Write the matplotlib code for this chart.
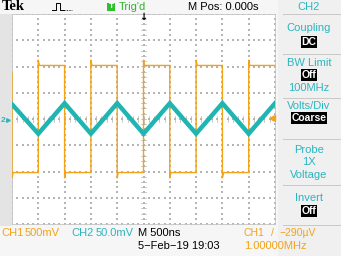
import numpy as np
import matplotlib.pyplot as plt
from matplotlib.patches import Rectangle
from matplotlib.lines import Line2D

W, H = 341, 256

# CH1 trace: 1 MHz square wave, volts (500 mV/div)
ch1_time_ns = [-2500, -2500, -2480, -2000, -2000, -1980, -1500, -1500, -1480,
               -1000, -1000, -980, -500, -500, -480, 0, 0, 20, 500, 500, 520,
               1000, 1000, 1020, 1500, 1500, 1520, 2000, 2000, 2020, 2500]
ch1_volts = [0.88, -1.12, -1.02, -1.02, 1.12, 1.02, 1.02, -1.12, -1.02,
             -1.02, 1.12, 1.02, 1.02, -1.12, -1.02, -1.02, 1.12, 1.02, 1.02, -1.12, -1.02,
             -1.02, 1.12, 1.02, 1.02, -1.12, -1.02, -1.02, 1.12, 1.02, 1.02]

# CH2 trace: triangle wave, millivolts (50 mV/div)
ch2_time_ns = [-2500, -2000, -1500, -1000, -500, 0, 500, 1000, 1500, 2000, 2500]
ch2_mv = [28, -28, 30, -28, 30, -28, 30, -28, 30, -28, 30]

ch1_vdiv = 0.5
ch2_vdiv = 50.0

ORANGE = '#f2a31b'
CYAN = '#1fb5b2'
CYAN_TXT = '#2ab6c0'
GRID = '#b4b4b4'
FONT = ['Liberation Sans', 'DejaVu Sans']


def fx(x):
    return x / W


def fy(y):
    return 1 - y / H


fig = plt.figure(figsize=(W / 100, H / 100), dpi=100)
fig.patch.set_facecolor('#f6f6f6')

# left grey strip and right menu panel
fig.add_artist(Rectangle((0, fy(226)), fx(12), fy(14) - fy(226),
                         transform=fig.transFigure, facecolor='#e4e4e4', edgecolor='none'))
fig.add_artist(Rectangle((fx(278), 0), fx(63), 1,
                         transform=fig.transFigure, facecolor='#f0f0f0', edgecolor='none'))

ax = fig.add_axes([fx(12), fy(224), fx(275) - fx(12), fy(14) - fy(224)])
ax.set_facecolor('white')
ax.set_xlim(-2500, 2500)
ax.set_ylim(-4, 4)
ax.set_xticks([])
ax.set_yticks([])
for s in ax.spines.values():
    s.set_color('#c4c4c4')
    s.set_linewidth(0.6)

# dotted graticule
for x in np.arange(-2500, 2501, 500):
    yy = np.arange(-4, 4.01, 0.2)
    ax.scatter(np.full_like(yy, x), yy, s=0.8, c=GRID, marker='s', linewidths=0, zorder=1)
for y in np.arange(-4, 4.01, 1):
    xx = np.arange(-2500, 2501, 100)
    ax.scatter(xx, np.full_like(xx, y, dtype=float), s=0.8, c=GRID, marker='s',
               linewidths=0, zorder=1)
# center-line tick marks
for yy in np.arange(-4, 4.01, 0.2):
    ax.plot([-50, 50], [yy, yy], color=GRID, lw=0.5, zorder=1)
for xx in np.arange(-2500, 2501, 100):
    ax.plot([xx, xx], [-0.1, 0.1], color=GRID, lw=0.5, zorder=1)

# traces
ax.plot(ch1_time_ns, np.array(ch1_volts) / ch1_vdiv, color=ORANGE, lw=1.0, zorder=3)
ax.plot(ch2_time_ns, np.array(ch2_mv) / ch2_vdiv, color=CYAN, lw=3.2,
        solid_joinstyle='miter', zorder=4)

# trigger level marker at right edge
ax.plot([2440], [0.05], marker='<', color=ORANGE, ms=4, clip_on=False, zorder=5)

# CH2 ground marker on left strip
fig.text(fx(1), fy(120), '2', color=CYAN_TXT, fontsize=6, va='center', ha='left',
         family=FONT, fontweight='bold')
fig.add_artist(Line2D([fx(8)], [fy(120)], marker='>', color=CYAN_TXT, ms=2.5,
                      transform=fig.transFigure))

# top bar
fig.text(fx(2), fy(7), 'Tek', fontsize=10.5, fontweight='bold', family='Liberation Serif',
         va='center', ha='left')
fig.add_artist(Line2D([fx(52), fx(56), fx(56), fx(60), fx(60), fx(64)],
                      [fy(10), fy(10), fy(3), fy(3), fy(10), fy(10)],
                      color='black', lw=0.7, transform=fig.transFigure))
fig.add_artist(Line2D([fx(65), fx(72)], [fy(10), fy(10)], color='black', lw=0.6,
                      ls=(0, (1, 1)), transform=fig.transFigure))
fig.add_artist(Rectangle((fx(107), fy(11)), fx(8), fy(3) - fy(11),
                         transform=fig.transFigure, facecolor='#2fbf2f', edgecolor='none'))
fig.text(fx(111), fy(7), 'T', color='white', fontsize=6, fontweight='bold',
         ha='center', va='center', family=FONT)
fig.text(fx(119), fy(7), "Trig'd", color='#2cb52c', fontsize=8, ha='left', va='center',
         family=FONT)
fig.text(fx(223), fy(7), 'M Pos: 0.000s', fontsize=8, ha='center', va='center', family=FONT)
fig.text(fx(143.5), fy(17), '\u2193', fontsize=7, fontweight='bold', ha='center', va='center')

# right menu
menu = [
    ('CH2', 7, None),
    ('Coupling', 28, None), ('DC', 42, 'box'),
    ('BW Limit', 63, None), ('Off', 75, 'box'), ('100MHz', 88, None),
    ('Volts/Div', 106, None), ('Coarse', 118, 'box'),
    ('Probe', 150, None), ('1X', 162, None), ('Voltage', 175, None),
    ('Invert', 198, None), ('Off', 211, 'box'),
]
for label, y, style in menu:
    if style == 'box':
        fig.text(fx(309), fy(y), label, color='white', fontsize=7.5, fontweight='bold',
                 ha='center', va='center', family=FONT,
                 bbox=dict(facecolor='black', edgecolor='none', pad=0.6))
    else:
        fig.text(fx(309), fy(y), label, color=CYAN_TXT, fontsize=8,
                 ha='center', va='center', family=FONT)
for y in [13.5, 53.5, 97.5, 139, 185, 225]:
    fig.add_artist(Line2D([fx(283), fx(341)], [fy(y), fy(y)], color='#c8c8c8', lw=0.7,
                          transform=fig.transFigure))

# bottom status line
fig.text(fx(1), fy(233), 'CH1', color=ORANGE, fontsize=8, ha='left', va='center', family=FONT)
fig.text(fx(25), fy(233), '500mV', color=ORANGE, fontsize=8, ha='left', va='center', family=FONT)
fig.text(fx(71), fy(233), 'CH2', color=CYAN_TXT, fontsize=8, ha='left', va='center', family=FONT)
fig.text(fx(96), fy(233), '50.0mV', color=CYAN_TXT, fontsize=8, ha='left', va='center', family=FONT)
fig.text(fx(138), fy(233), 'M 500ns', fontsize=8, ha='left', va='center', family=FONT)
fig.text(fx(138), fy(246), '5\u2212Feb\u221219 19:03', fontsize=8, ha='left', va='center',
         family=FONT)
fig.text(fx(244), fy(233), 'CH1', color=ORANGE, fontsize=7.5, ha='left', va='center',
         family=FONT)
fig.text(fx(271), fy(233), '/', color=ORANGE, fontsize=7.5, ha='left', va='center',
         family=FONT)
fig.text(fx(279), fy(233), '\u2212290\u00b5V', color=ORANGE, fontsize=7.5, ha='left',
         va='center', family=FONT)
fig.text(fx(244), fy(246), '1.00000MHz', color=ORANGE, fontsize=8, ha='left', va='center',
         family=FONT)

fig.savefig('out.png', dpi=100, facecolor=fig.get_facecolor())
